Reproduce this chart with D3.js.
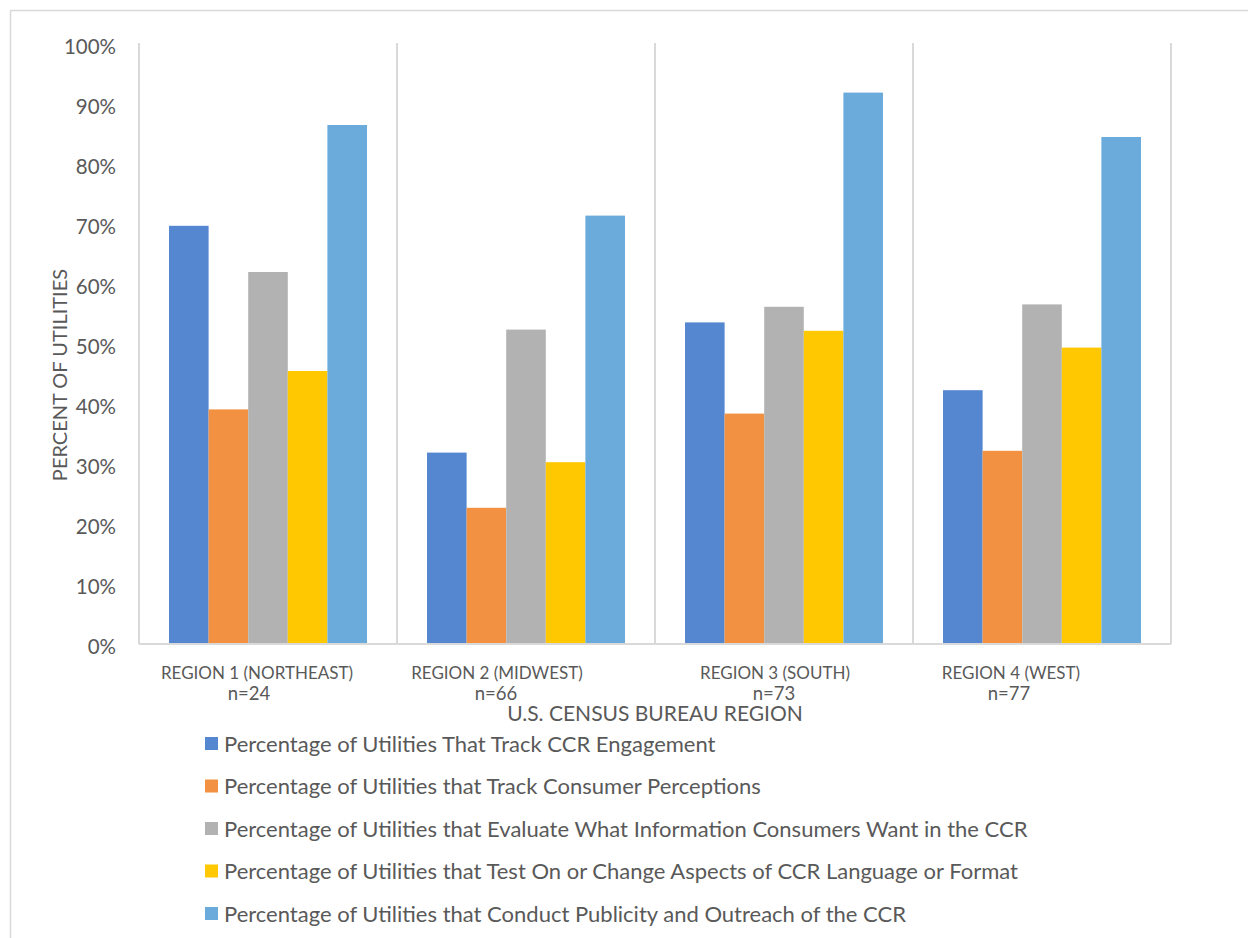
<!DOCTYPE html>
<html>
<head>
<meta charset="utf-8">
<script src="https://cdn.jsdelivr.net/npm/d3@7/dist/d3.min.js"></script>
<style>
  html, body { margin: 0; padding: 0; background: #fff; }
  svg text { font-family: Lato, "Noto Sans", sans-serif; fill: #595959; }
</style>
</head>
<body>
<svg id="chart" width="1248" height="938"></svg>
<script>
// Regions (x categories) and their sample sizes
const regions = ["REGION 1 (NORTHEAST)", "REGION 2 (MIDWEST)", "REGION 3 (SOUTH)", "REGION 4 (WEST)"];
const sampleSizes = ["n=24", "n=66", "n=73", "n=77"];

// Series names (legend order)
const seriesNames = [
  "Percentage of Utilities That Track CCR Engagement",
  "Percentage of Utilities that Track Consumer Perceptions",
  "Percentage of Utilities that Evaluate What Information Consumers Want in the CCR",
  "Percentage of Utilities that Test On or Change Aspects of CCR Language or Format",
  "Percentage of Utilities that Conduct Publicity and Outreach of the CCR"
];

// Percent values per series, one entry per region
const trackEngagement   = [69.7, 31.9, 53.6, 42.3];
const trackPerceptions  = [39.1, 22.7, 38.4, 32.2];
const evaluateInfo      = [62.0, 52.4, 56.2, 56.6];
const testLanguage      = [45.5, 30.3, 52.2, 49.4];
const publicityOutreach = [86.5, 71.4, 91.9, 84.5];

const yTicks = [0, 10, 20, 30, 40, 50, 60, 70, 80, 90, 100];

const colors = ["#5587D0", "#F29141", "#B2B2B2", "#FFC800", "#6BABDC"];

const seriesValues = [trackEngagement, trackPerceptions, evaluateInfo, testLanguage, publicityOutreach];

// Horizontal nudges for the category label lines (the labels sit slightly left of center)
const labelShift = [-11, -29, -9, -31];
const countShift = [-19, -30, -10, -33];

const svg = d3.select("#chart");

// Chart-area border
svg.append("rect")
  .attr("x", 10.5).attr("y", 10.5)
  .attr("width", 1300).attr("height", 1000)
  .attr("fill", "none").attr("stroke", "#d9d9d9").attr("stroke-width", 1.5);

const plot = { left: 139, right: 1171, top: 44, bottom: 644 };

const x0 = d3.scaleBand().domain(regions).range([plot.left, plot.right]).padding(0);
const x1 = d3.scaleBand().domain(d3.range(seriesNames.length))
  .range([0, x0.bandwidth()]).paddingInner(0).paddingOuter(0.758);
const y = d3.scaleLinear().domain([0, 100]).range([plot.bottom, plot.top]);

// Category separators (vertical gridlines)
const sepX = regions.map(r => x0(r)).concat([x0(regions[regions.length - 1]) + x0.bandwidth()]);
svg.append("g").selectAll("line").data(sepX).join("line")
  .attr("x1", d => d).attr("x2", d => d)
  .attr("y1", y(100) - 1).attr("y2", y(0))
  .attr("stroke", "#d9d9d9").attr("stroke-width", 2);

// Bars
const groups = svg.append("g").selectAll("g").data(regions).join("g")
  .attr("transform", r => `translate(${x0(r)},0)`);
groups.selectAll("rect")
  .data((r, ri) => seriesValues.map((vals, si) => ({ si, v: vals[ri] })))
  .join("rect")
  .attr("x", d => x1(d.si))
  .attr("width", x1.bandwidth())
  .attr("y", d => y(d.v))
  .attr("height", d => y(0) - y(d.v))
  .attr("fill", d => colors[d.si]);

// Category axis baseline
svg.append("line")
  .attr("x1", plot.left).attr("x2", plot.right)
  .attr("y1", y(0)).attr("y2", y(0))
  .attr("stroke", "#d9d9d9").attr("stroke-width", 2);

// Y axis tick labels
const yAxis = d3.axisLeft(y).tickValues(yTicks).tickFormat(d => d + "%").tickSize(0).tickPadding(23);
const yg = svg.append("g").attr("transform", `translate(${plot.left},0)`).call(yAxis);
yg.select(".domain").remove();
yg.selectAll("text")
  .attr("font-size", 20.5)
  .attr("dy", "0.47em")
  .style("font-family", "Lato, 'Noto Sans', sans-serif")
  .attr("fill", "#595959");

// Category labels (two lines)
const catG = svg.append("g");
regions.forEach((r, i) => {
  const cx = x0(r) + x0.bandwidth() / 2;
  catG.append("text").attr("x", cx + labelShift[i]).attr("y", 679)
    .attr("text-anchor", "middle").attr("font-size", 17).text(r);
  catG.append("text").attr("x", cx + countShift[i]).attr("y", 700)
    .attr("text-anchor", "middle").attr("font-size", 18.5).text(sampleSizes[i]);
});

// Axis titles
svg.append("text")
  .attr("x", (plot.left + plot.right) / 2).attr("y", 721)
  .attr("text-anchor", "middle").attr("font-size", 21).text("U.S. CENSUS BUREAU REGION");
svg.append("text")
  .attr("transform", "translate(67,375) rotate(-90)")
  .attr("text-anchor", "middle").attr("font-size", 20).text("PERCENT OF UTILITIES");

// Legend
const legend = svg.append("g").attr("transform", "translate(205,737)");
const items = legend.selectAll("g").data(seriesNames).join("g")
  .attr("transform", (d, i) => `translate(0,${i * 42.5})`);
items.append("rect").attr("width", 13).attr("height", 13).attr("fill", (d, i) => colors[i]);
items.append("text").attr("x", 19).attr("y", 7).attr("dy", "0.36em")
  .attr("font-size", 22).text(d => d);
</script>
</body>
</html>
